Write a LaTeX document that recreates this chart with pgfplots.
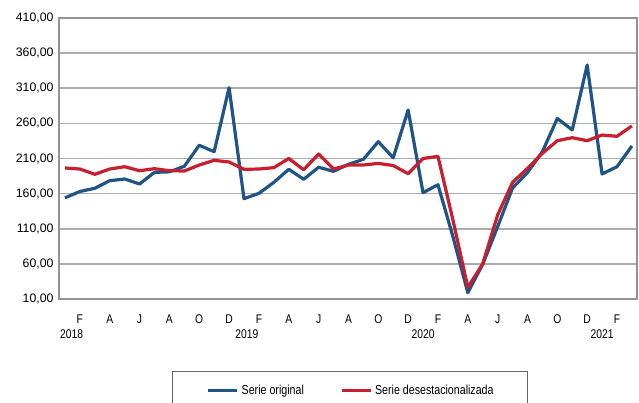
\documentclass[border=0pt]{standalone}
\usepackage{pgfplots}
\usepackage{pgfplotstable}
\pgfplotsset{compat=1.18}
\usepackage{fontspec}
\setmainfont{Liberation Sans}
\newfontfamily\narrowfont[FakeStretch=0.82]{Liberation Sans}
\definecolor{serieblue}{RGB}{30,84,135}
\definecolor{seriered}{RGB}{200,30,45}

\pgfplotstableread{
x y
0 154
1 163
2 167.6
3 178.4
4 180.8
5 173.7
6 190.3
7 191
8 198.9
9 228.8
10 219.7
11 310.8
12 152.8
13 160.4
14 176
15 194.6
16 180.4
17 197.5
18 191.8
19 201.7
20 208.8
21 234
22 211
23 279
24 161.3
25 172.7
26 99
27 19
28 59.4
29 113
30 168
31 190
32 219.7
33 267
34 250.6
35 343
36 188
37 198.3
38 227.8
}\original

\pgfplotstableread{
x y
0 196.5
1 195
2 187.5
3 195
4 198.3
5 192.6
6 195.5
7 192.6
8 192.2
9 200.7
10 207.4
11 205
12 194.6
13 195
14 197
15 210
16 194
17 216.4
18 195
19 200.7
20 200.7
21 203
22 200
23 188.4
24 210
25 213
26 122.7
27 26.6
28 60
29 129.6
30 176
31 196
32 217.4
33 235.3
34 239.6
35 235.3
36 243.4
37 241.6
38 256.3
}\desest

\begin{document}
\begin{tikzpicture}
\begin{axis}[
  name=ax,
  scale only axis,
  width=578pt, height=281pt,
  xmin=-0.4, xmax=38.34,
  ymin=10, ymax=410,
  ytick={10,60,...,410},
  xtick={1,3,...,37},
  xticklabels={F,A,J,A,O,D,F,A,J,A,O,D,F,A,J,A,O,D,F},
  extra x ticks={0.45,12.2,24,36},
  extra x tick labels={2018,2019,2020,2021},
  extra x tick style={grid=none, tick label style={yshift=-15pt}},
  x tick label style={font=\narrowfont\fontsize{12.6}{14}\selectfont, yshift=-12pt},
  y tick label style={font=\fontsize{12.3}{14}\selectfont, xshift=-2pt},
  /pgf/number format/.cd, fixed, fixed zerofill, precision=2, use comma, assume math mode=true,
  /pgfplots/.cd,
  major tick length=0pt,
  ymajorgrids,
  grid style={color=gray!65, line width=1.6pt},
  axis line style={color=gray!85, line width=1.8pt},
  legend columns=2,
  legend image code/.code={\draw[#1] (0pt,0pt) -- (29pt,0pt);},
  legend style={
    at={(axis description cs:0.1955,-0.256)}, anchor=north west,
    draw=gray!80!black, line width=1pt,
    font=\narrowfont\fontsize{13}{15}\selectfont,
    inner xsep=34pt, inner ysep=14pt,
    nodes={inner sep=0pt},
    /tikz/every odd column/.append style={column sep=3pt},
    /tikz/every even column/.append style={column sep=36pt},
  },
]
\addplot[color=serieblue, line width=3.2pt, line join=round, no marks] table[x=x,y=y] {\original};
\addlegendentry{Serie original}
\addplot[color=seriered, line width=3.2pt, line join=round, no marks] table[x=x,y=y] {\desest};
\addlegendentry{Serie desestacionalizada}
\end{axis}
\pgfresetboundingbox
\useasboundingbox ([shift={(-59pt,-104pt)}]ax.south west) rectangle ([shift={(2pt,18pt)}]ax.north east);
\end{tikzpicture}
\end{document}
